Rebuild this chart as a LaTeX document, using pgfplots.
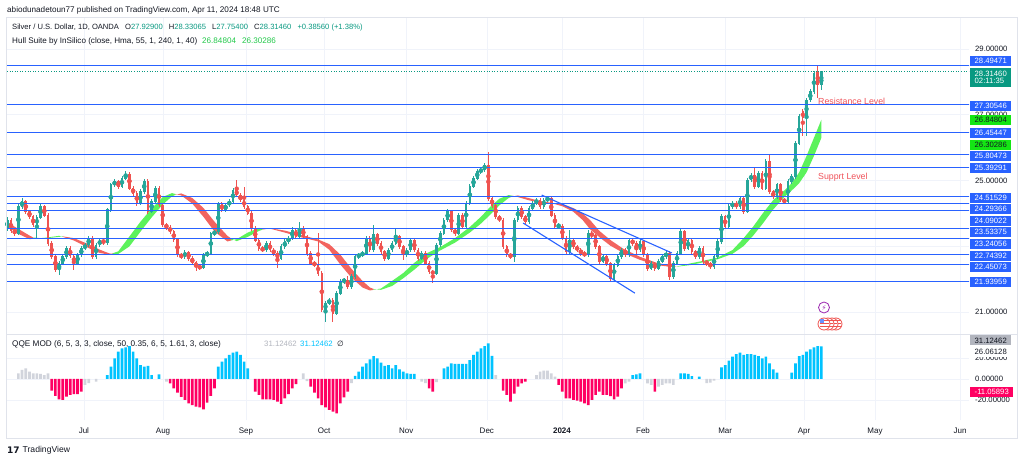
\documentclass[border=0pt]{standalone}
\usepackage{fontspec}
\setmainfont{Liberation Sans}
\newfontfamily\dejavu{DejaVu Sans}
\usepackage{pgfplots}
\pgfplotsset{compat=1.18}
\usepackage{pgfplotstable}

\definecolor{cgreen}{HTML}{26A69A}
\definecolor{cred}{HTML}{EF5350}
\definecolor{hgreen}{HTML}{5CF25C}
\definecolor{hred}{HTML}{F2645F}
\definecolor{lvl}{HTML}{2962FF}
\definecolor{qblue}{HTML}{00C3FF}
\definecolor{qpink}{HTML}{FF0062}
\definecolor{qgray}{HTML}{D1D4DC}
\definecolor{gridc}{HTML}{F0F3FA}
\definecolor{framec}{HTML}{E0E3EB}
\definecolor{txt}{HTML}{131722}
\definecolor{tvgreen}{HTML}{089981}
\definecolor{hlime}{HTML}{22C94A}
\definecolor{boxgreen}{HTML}{14E514}
\definecolor{resred}{HTML}{F0525A}
\definecolor{lgray}{HTML}{B2B5BE}
\definecolor{purp}{HTML}{9C27B0}

\newcommand\fs[1]{\fontsize{#1}{#1}\selectfont}

\pgfplotstableread{
i O H L C
0 23.55 23.88 23.48 23.80
1 23.80 23.86 23.42 23.48
2 23.48 23.55 23.33 23.40
3 23.40 24.30 23.34 24.21
4 24.21 24.46 24.14 24.36
5 24.36 24.42 23.99 24.06
6 24.06 24.12 23.84 23.90
7 23.90 23.96 23.58 23.65
8 23.65 23.95 23.25 23.88
9 23.88 24.28 23.82 24.21
10 24.21 24.27 23.88 23.95
11 23.95 24.01 23.02 23.09
12 23.09 23.15 22.62 22.69
13 22.69 22.75 22.23 22.30
14 22.30 22.56 22.13 22.49
15 22.49 22.76 22.43 22.69
16 22.69 23.01 22.63 22.94
17 22.94 23.00 22.64 22.71
18 22.71 22.77 22.28 22.49
19 22.49 22.81 22.43 22.74
20 22.74 23.01 22.68 22.94
21 22.94 23.11 22.88 23.04
22 23.04 23.32 22.98 23.25
23 23.25 23.31 22.62 22.69
24 22.69 23.11 22.63 23.04
25 23.04 23.26 22.98 23.19
26 23.19 23.25 23.04 23.11
27 23.11 24.18 23.05 24.11
28 24.11 24.94 24.05 24.87
29 24.87 25.04 24.81 24.97
30 24.97 25.03 24.75 24.82
31 24.82 25.14 24.76 25.07
32 25.07 25.30 25.01 25.20
33 25.20 25.26 24.70 24.77
34 24.77 24.83 24.54 24.61
35 24.61 24.67 24.24 24.31
36 24.31 24.73 24.25 24.66
37 24.66 25.06 24.60 24.97
38 24.97 25.05 23.99 24.06
39 24.06 24.43 24.00 24.36
40 24.36 24.84 24.30 24.77
41 24.77 24.83 24.19 24.26
42 24.26 24.32 23.58 23.65
43 23.65 23.71 23.51 23.58
44 23.58 23.64 23.38 23.45
45 23.45 23.51 23.14 23.21
46 23.21 23.27 22.67 22.74
47 22.74 22.80 22.62 22.69
48 22.69 22.88 22.63 22.81
49 22.81 22.87 22.57 22.64
50 22.64 22.70 22.44 22.51
51 22.51 22.57 22.26 22.38
52 22.38 22.44 22.29 22.36
53 22.36 22.81 22.30 22.74
54 22.74 22.86 22.68 22.79
55 22.79 23.45 22.73 23.38
56 23.38 23.51 23.32 23.44
57 23.44 24.36 23.38 24.29
58 24.29 24.35 24.04 24.11
59 24.11 24.33 24.05 24.26
60 24.26 24.43 24.20 24.36
61 24.36 24.78 24.30 24.71
62 24.71 25.02 24.49 24.56
63 24.56 24.62 24.34 24.41
64 24.41 24.82 24.14 24.21
65 24.21 24.27 23.94 24.01
66 24.01 24.07 23.48 23.55
67 23.55 23.61 23.12 23.19
68 23.19 23.25 22.87 22.94
69 22.94 23.00 22.82 22.89
70 22.89 23.16 22.83 23.09
71 23.09 23.15 22.82 22.89
72 22.89 22.95 22.72 22.79
73 22.79 22.85 22.33 22.64
74 22.64 23.06 22.58 22.99
75 22.99 23.21 22.93 23.14
76 23.14 23.32 23.08 23.25
77 23.25 23.58 23.19 23.50
78 23.50 23.56 23.23 23.30
79 23.30 23.75 23.24 23.55
80 23.55 23.61 23.23 23.30
81 23.30 23.36 22.72 22.79
82 22.79 22.85 22.42 22.49
83 22.49 22.55 22.38 22.45
84 22.45 23.40 22.11 22.18
85 22.18 22.24 21.00 21.07
86 21.07 21.34 20.71 21.27
87 21.27 21.44 21.21 21.37
88 21.37 21.43 20.71 20.97
89 20.97 21.64 20.91 21.57
90 21.57 22.00 21.51 21.93
91 21.93 22.05 21.87 21.98
92 21.98 22.10 21.71 21.78
93 21.78 22.15 21.72 22.08
94 22.08 22.76 22.02 22.69
95 22.69 22.81 22.63 22.74
96 22.74 22.86 22.68 22.79
97 22.79 23.32 22.73 23.25
98 23.25 23.31 22.83 22.90
99 22.90 23.65 22.84 23.35
100 23.35 23.41 23.02 23.09
101 23.09 23.15 22.77 22.84
102 22.84 22.90 22.57 22.64
103 22.64 22.96 22.58 22.89
104 22.89 23.16 22.83 23.09
105 23.09 23.55 23.03 23.30
106 23.30 23.36 22.92 22.99
107 22.99 23.05 22.59 22.74
108 22.74 22.96 22.68 22.89
109 22.89 23.26 22.83 23.19
110 23.19 23.25 22.82 22.89
111 22.89 22.95 22.57 22.64
112 22.64 22.86 22.58 22.79
113 22.79 22.85 22.42 22.49
114 22.49 22.55 22.16 22.23
115 22.23 22.29 21.88 22.18
116 22.18 23.11 22.12 23.04
117 23.04 23.47 22.98 23.40
118 23.40 23.87 23.34 23.80
119 23.80 24.13 23.74 24.06
120 24.06 24.12 23.43 23.50
121 23.50 23.56 23.33 23.40
122 23.40 24.02 23.34 23.95
123 23.95 24.01 23.53 23.60
124 23.60 24.38 23.54 24.31
125 24.31 24.89 24.25 24.82
126 24.82 25.14 24.76 25.07
127 25.07 25.34 25.01 25.27
128 25.27 25.40 25.21 25.33
129 25.33 25.54 25.27 25.47
130 25.47 25.88 24.39 24.46
131 24.46 24.52 24.18 24.25
132 24.25 24.31 23.83 23.90
133 23.90 23.96 23.73 23.80
134 23.80 23.86 22.92 22.99
135 22.99 23.05 22.67 22.74
136 22.74 22.80 22.63 22.70
137 22.70 23.87 22.54 23.80
138 23.80 24.23 23.74 24.16
139 24.16 24.22 23.83 23.90
140 23.90 23.96 23.68 23.75
141 23.75 24.23 23.69 24.16
142 24.16 24.38 24.10 24.31
143 24.31 24.48 24.25 24.41
144 24.41 24.47 24.14 24.21
145 24.21 24.48 24.15 24.41
146 24.41 24.52 24.35 24.45
147 24.45 24.51 23.88 23.95
148 23.95 24.01 23.53 23.60
149 23.60 23.72 23.54 23.62
150 23.62 23.68 23.18 23.25
151 23.25 23.31 22.74 22.84
152 22.84 23.50 22.78 23.19
153 23.19 23.25 22.92 22.99
154 22.99 23.05 22.82 22.89
155 22.89 22.95 22.72 22.79
156 22.79 22.85 22.67 22.74
157 22.74 23.50 22.68 23.40
158 23.40 23.46 23.25 23.32
159 23.32 23.38 22.92 22.99
160 22.99 23.05 22.47 22.54
161 22.54 22.76 22.48 22.69
162 22.69 22.75 22.41 22.48
163 22.48 22.54 21.96 22.03
164 22.03 22.50 21.97 22.43
165 22.43 22.76 22.37 22.69
166 22.69 22.96 22.63 22.89
167 22.89 22.95 22.67 22.74
168 22.74 23.26 22.68 23.19
169 23.19 23.25 23.02 23.09
170 23.09 23.15 22.74 22.89
171 22.89 23.21 22.83 23.14
172 23.14 23.20 22.67 22.74
173 22.74 22.80 22.26 22.33
174 22.33 22.55 22.27 22.48
175 22.48 22.54 22.26 22.33
176 22.33 22.61 22.27 22.54
177 22.54 22.76 22.48 22.69
178 22.69 22.86 22.63 22.79
179 22.79 22.85 21.98 22.08
180 22.08 22.55 22.02 22.48
181 22.48 22.86 22.42 22.79
182 22.79 23.52 22.73 23.45
183 23.45 23.51 22.87 22.94
184 22.94 23.26 22.88 23.19
185 23.19 23.25 22.77 22.84
186 22.84 22.90 22.62 22.69
187 22.69 23.01 22.63 22.94
188 22.94 23.00 22.47 22.54
189 22.54 22.60 22.41 22.48
190 22.48 22.54 22.31 22.38
191 22.38 22.76 22.32 22.69
192 22.69 23.21 22.63 23.14
193 23.14 23.97 23.08 23.90
194 23.90 23.96 23.53 23.60
195 23.60 24.28 23.54 24.21
196 24.21 24.38 24.15 24.31
197 24.31 24.37 24.14 24.21
198 24.21 24.53 24.15 24.46
199 24.46 24.52 23.99 24.06
200 24.06 25.09 24.00 25.02
201 25.02 25.24 24.96 25.17
202 25.17 25.42 24.75 24.82
203 24.82 25.29 24.76 25.22
204 25.22 25.28 24.70 24.77
205 24.77 25.65 24.71 25.58
206 25.58 25.78 24.59 24.66
207 24.66 24.72 24.44 24.51
208 24.51 24.94 24.45 24.87
209 24.87 24.93 24.34 24.41
210 24.41 24.47 24.31 24.36
211 24.36 25.04 24.30 24.97
212 24.97 25.19 24.91 25.12
213 25.12 26.20 25.06 26.13
214 26.13 27.02 26.07 26.95
215 27.10 27.17 26.35 26.90
216 26.90 27.52 26.35 27.45
217 27.45 27.77 27.39 27.70
218 27.70 28.32 27.64 28.25
219 28.30 28.49 27.50 27.93
220 27.93 28.33 27.75 28.31
}\candles

\pgfplotstableread{
i v c
3 5.4 0
4 8.6 0
5 10.2 0
6 7.0 0
7 5.4 0
8 5.4 0
9 4.8 0
10 3.8 0
11 5.4 0
12 -11 2
13 -16 2
14 -19.4 2
15 -20 2
16 -16.8 2
17 -15.2 2
18 -14.3 2
19 -14.3 2
20 -12 2
21 -5.7 0
22 -4 0
24 -2.5 0
27 3.8 1
28 11.7 1
29 19.7 1
30 26 1
31 29.2 1
32 30 1
33 31.4 1
34 26 1
35 19.7 1
36 13.3 1
37 11.7 1
38 12.4 1
39 3.8 1
41 4.4 1
43 -2.5 0
44 -4.1 2
45 -8.9 2
46 -13 2
47 -17 2
48 -20 2
49 -23.2 2
50 -24.8 2
51 -26.3 2
52 -27 2
53 -28.9 2
54 -22.5 2
55 -16 2
56 -9 2
57 11.7 1
58 16.5 1
59 19.7 1
60 22.9 1
61 25 1
62 26 1
63 22.9 1
64 16.5 1
65 10.2 1
67 -12 2
68 -15.2 2
69 -19.4 2
70 -19.4 2
71 -19.4 2
72 -20 2
73 -21.6 2
74 -23.8 2
75 -18.4 2
76 -14.3 2
77 -8.9 2
78 -4.8 2
80 5.4 0
81 -2 0
82 -7.3 2
83 -13 2
84 -18.4 2
85 -24.8 2
86 -27 2
87 -29.5 2
88 -31.1 2
89 -32.7 2
90 -23.2 2
91 -17.5 2
92 -12 2
93 -4 0
94 2.9 1
95 7 1
96 11.7 1
97 14.9 1
98 18.7 1
99 21.9 1
100 19.7 1
101 15.6 1
102 12.4 1
103 13.3 1
104 10.2 1
105 13.3 1
106 9.2 1
107 7 1
108 5.4 1
109 4.8 1
110 4.8 1
112 -2.5 0
113 -4 0
114 -8.9 2
115 -12 2
116 -3 0
118 10.2 1
119 11.7 1
120 14.9 1
121 14.3 1
122 14.3 1
123 14.3 1
124 14.3 1
125 18 1
126 22.9 1
127 26 1
128 29.2 1
129 31.4 1
130 34 1
131 22 1
132 3.8 0
134 -11 2
135 -15.2 2
136 -21.6 2
137 -14 2
138 -7.3 2
139 -4.1 2
140 -2.5 2
143 3.8 0
144 7 0
145 7.9 0
146 7.9 0
147 5.4 0
148 2.2 0
149 -5.7 2
150 -12 2
151 -18.4 2
152 -18.4 2
153 -20 2
154 -20.6 2
155 -21.6 2
156 -23.2 2
157 -24.8 2
158 -20 2
159 -15.2 2
160 -12 2
161 -15.2 2
162 -15.2 2
163 -16.2 2
164 -19.4 2
165 -16.8 2
166 -8.9 2
167 -4.1 0
168 -2.5 0
169 3.8 1
170 4.4 1
171 5.4 1
173 -4.1 0
174 -5.7 0
175 -12 2
176 -7.3 0
177 -5.7 0
178 -4.1 0
179 -4.1 0
180 -5.7 0
182 5.4 1
183 5.4 1
184 4.8 1
185 2.8 1
187 2.2 1
189 -4 0
190 -3.5 0
191 -1.6 0
193 11.1 1
194 13.3 1
195 17.5 1
196 21.3 1
197 23.8 1
198 25 1
199 22.9 1
200 23.8 1
201 23.8 1
202 22.9 1
203 21.9 1
204 19.7 1
205 21.3 1
206 14.9 1
207 9.2 1
208 6 1
212 6 1
213 14.9 1
214 21.9 1
215 22.9 1
216 26 1
217 28.3 1
218 30.2 1
219 31.4 1
220 31.12 1
}\qqe

\pgfplotsset{
  tvaxis/.style={
    scale only axis, width=962.3bp,
    xmin=-0.16, xmax=259.9,
    axis line style={draw=none}, major tick length=0pt,
    grid=major, grid style={gridc, line width=0.7bp},
    xtick={20.7,42.1,64.5,85.6,107.8,129.6,149.9,171.8,194.0,215.3,234.5,257.5},
    yticklabel pos=right,
    yticklabel style={anchor=west, inner sep=0pt, xshift=6bp, font=\fs{7.7bp}, text=txt},
  },
  cwick/.style={color=#1, only marks, mark=none, forget plot,
    error bars/y dir=both, error bars/y explicit, error bars/error mark=none,
    error bars/error bar style={line width=0.9bp, draw=#1}},
  cbody/.style={color=#1, only marks, mark=none, forget plot,
    error bars/y dir=both, error bars/y explicit, error bars/error mark=none,
    error bars/error bar style={line width=2.6bp, draw=#1}},
  level/.style={lvl, line width=1.1bp, forget plot},
  band/.style={fill=#1, draw=none, forget plot},
}

\begin{document}
\begin{tikzpicture}
\path[use as bounding box, fill=white] (0,0) rectangle (1024bp,463bp);

% ===== price panel =====
\begin{axis}[tvaxis, at={(6.7bp,129bp)}, anchor=south west, height=317bp,
  ymin=20.337, ymax=29.973,
  ytick={21,23,25,27,29},
  yticklabels={21.00000,,25.00000,27.00000,29.00000},
  xticklabels={}]
  % Hull Suite band: HMA (forward edge) and HMA two bars earlier (return edge)
  \addplot[band=hred] coordinates {(-4,23.85)(0,23.60)(3,23.38)(6,23.22)(7,23.23)
    (7,23.27)(6,23.33)(3,23.53)(0,23.73)(-4,23.97)};
  \addplot[band=hgreen] coordinates {(7,23.23)(10,23.26)(14,23.32)(15,23.29)
    (15,23.305)(14,23.29)(10,23.24)(7,23.27)};
  \addplot[band=hred] coordinates {(15,23.29)(18,23.18)(22,22.95)(25,22.80)(27.5,22.75)(28.5,22.79)
    (28.5,22.77)(27.5,22.79)(25,22.90)(22,23.065)(18,23.25)(15,23.305)};
  \addplot[band=hgreen] coordinates {(28.5,22.79)(30,22.85)(33,23.30)(36,23.75)(39,24.15)(42,24.50)(44.5,24.62)(45.5,24.59)
    (45.5,24.57)(44.5,24.52)(42,24.27)(39,23.88)(36,23.45)(33,23.00)(30,22.77)(28.5,22.77)};
  \addplot[band=hred] coordinates {(45.5,24.59)(47,24.55)(50,24.30)(53,23.90)(56,23.45)(59.5,23.15)(60.5,23.18)
    (60.5,23.24)(59.5,23.32)(56,23.75)(53,24.17)(50,24.47)(47,24.61)(45.5,24.57)};
  \addplot[band=hgreen] coordinates {(60.5,23.18)(62,23.22)(65,23.42)(68,23.56)(69,23.55)
    (69,23.51)(68,23.47)(65,23.29)(62,23.16)(60.5,23.24)};
  \addplot[band=hred] coordinates {(69,23.55)(71,23.54)(75,23.42)(79,23.29)(84,23.15)(87,22.90)(90,22.45)(93,22.05)(96,21.75)(98,21.66)(99,21.68)
    (99,21.705)(98,21.75)(96,21.95)(93,22.32)(90,22.75)(87,23.07)(84,23.21)(79,23.36)(75,23.48)(71,23.55)(69,23.51)};
  \addplot[band=hgreen] coordinates {(99,21.68)(101,21.72)(104,21.95)(107,22.19)(110,22.50)(113.5,22.80)(117,22.98)(121,23.25)(125,23.59)(128,23.90)(130.5,24.20)(133,24.45)(135.5,24.56)(136.5,24.54)
    (136.5,24.516)(135.5,24.472)(133,24.25)(130.5,23.96)(128,23.693)(125,23.42)(121,23.115)(117,22.877)(113.5,22.629)(110,22.293)(107,22.03)(104,21.797)(101,21.68)(99,21.705)};
  \addplot[band=hred] coordinates {(136.5,24.54)(138,24.50)(141,24.40)(144,24.33)(147.5,24.30)(150,24.22)(153,24.05)(155.5,23.80)(157.5,23.52)(160,23.28)(163,23.02)(166.5,22.80)(171,22.59)(175.5,22.43)(180,22.37)(181,22.39)
    (181,22.383)(180,22.397)(175.5,22.501)(171,22.683)(166.5,22.926)(163,23.193)(160,23.472)(157.5,23.80)(155.5,24.00)(153,24.163)(150,24.284)(147.5,24.317)(144,24.377)(141,24.467)(138,24.548)(136.5,24.516)};
  \addplot[band=hgreen] coordinates {(181,22.39)(184.5,22.48)(188,22.56)(192,22.66)(196,22.89)(199,23.25)(201.5,23.59)(204,23.98)(207,24.41)(210,24.70)(212,24.92)(214,25.25)(216,25.75)(218,26.30)(220,26.85)
    (220,26.30)(218,25.75)(216,25.25)(214,24.92)(212,24.70)(210,24.507)(207,24.123)(204,23.668)(201.5,23.318)(199,23.01)(196,22.775)(192,22.61)(188,22.514)(184.5,22.431)(181,22.383)};

  % candles: wicks
  \addplot[cwick=cgreen, restrict expr to domain={\thisrow{C}-\thisrow{O}}{0:100}]
    table[x=i, y expr={(\thisrow{H}+\thisrow{L})/2}, y error expr={(\thisrow{H}-\thisrow{L})/2}] {\candles};
  \addplot[cwick=cred, restrict expr to domain={\thisrow{C}-\thisrow{O}}{-100:-0.0001}]
    table[x=i, y expr={(\thisrow{H}+\thisrow{L})/2}, y error expr={(\thisrow{H}-\thisrow{L})/2}] {\candles};
  % candles: bodies
  \addplot[cbody=cgreen, restrict expr to domain={\thisrow{C}-\thisrow{O}}{0:100}]
    table[x=i, y expr={(\thisrow{O}+\thisrow{C})/2}, y error expr={abs(\thisrow{C}-\thisrow{O})/2+0.012}] {\candles};
  \addplot[cbody=cred, restrict expr to domain={\thisrow{C}-\thisrow{O}}{-100:-0.0001}]
    table[x=i, y expr={(\thisrow{O}+\thisrow{C})/2}, y error expr={abs(\thisrow{C}-\thisrow{O})/2+0.012}] {\candles};

  % current price line
  \addplot[tvgreen, dotted, line width=0.6bp, forget plot] coordinates {(-5,28.3146) (265,28.3146)};

  % horizontal levels
  \addplot[level] coordinates {(-5,28.49471) (265,28.49471)};
  \addplot[level] coordinates {(-5,27.30546) (265,27.30546)};
  \addplot[level] coordinates {(-5,26.45447) (265,26.45447)};
  \addplot[level] coordinates {(-5,25.80473) (265,25.80473)};
  \addplot[level] coordinates {(-5,25.39291) (265,25.39291)};
  \addplot[level] coordinates {(-5,24.51529) (265,24.51529)};
  \addplot[level] coordinates {(-5,24.29366) (265,24.29366)};
  \addplot[level] coordinates {(-5,24.09022) (265,24.09022)};
  \addplot[level] coordinates {(-5,23.53375) (265,23.53375)};
  \addplot[level] coordinates {(-5,23.24056) (265,23.24056)};
  \addplot[level] coordinates {(-5,22.74392) (265,22.74392)};
  \addplot[level] coordinates {(-5,22.45073) (265,22.45073)};
  \addplot[level] coordinates {(-5,21.93959) (265,21.93959)};
  % channel
  \addplot[level] coordinates {(144.4,24.56) (179.6,22.80)};
  \addplot[level] coordinates {(139.4,23.71) (169.6,21.58)};
\end{axis}

% ===== QQE panel =====
\begin{axis}[tvaxis, at={(6.7bp,43bp)}, anchor=south west, height=86bp,
  ymin=-39.05, ymax=42.86,
  ytick={-20,0,20}, yticklabels={-20.00000,0.00000,20.00000},
  xticklabels={Jul,Aug,Sep,Oct,Nov,Dec,\textbf{2024},Feb,Mar,Apr,May,Jun},
  xticklabel style={anchor=base, inner sep=0pt, yshift=-13bp, font=\fs{8bp}, text=txt}]
  \addplot[ybar, bar width=2.7bp, bar shift=0pt, fill=qgray, draw=none,
    restrict expr to domain={\thisrow{c}}{-0.5:0.5}] table[x=i, y=v] {\qqe};
  \addplot[ybar, bar width=2.7bp, bar shift=0pt, fill=qblue, draw=none,
    restrict expr to domain={\thisrow{c}}{0.5:1.5}] table[x=i, y=v] {\qqe};
  \addplot[ybar, bar width=2.7bp, bar shift=0pt, fill=qpink, draw=none,
    restrict expr to domain={\thisrow{c}}{1.5:2.5}] table[x=i, y=v] {\qqe};
\end{axis}

\begin{scope}[x=1bp, y=1bp]
% frame
\draw[framec, line width=0.8bp] (6.7,446) rectangle (1017,25);
\draw[framec, line width=0.8bp] (6.7,129) -- (1017,129);

% header texts
\node[anchor=west, inner sep=0pt, font=\fs{8.15bp}, text=txt] at (7,453) {abiodunadetoun77 published on TradingView.com, Apr 11, 2024 18:48 UTC};
\node[anchor=west, inner sep=0pt, font=\fs{7.6bp}, text=txt] at (12,435.7)
 {Silver / U.S. Dollar, 1D, OANDA\hspace{4bp} O\textcolor{tvgreen}{27.92900}\hspace{4bp} H\textcolor{tvgreen}{28.33065}\hspace{4bp} L\textcolor{tvgreen}{27.75400}\hspace{4bp} C\textcolor{tvgreen}{28.31460}\hspace{4bp} \textcolor{tvgreen}{+0.38560 (+1.38\%)}};
\node[anchor=west, inner sep=0pt, font=\fs{8.1bp}, text=txt] at (12,422)
 {Hull Suite by InSilico (close, Hma, 55, 1, 240, 1, 40)\hspace{5bp}\textcolor{hlime}{26.84804}\hspace{6bp}\textcolor{hlime}{26.30286}};
\node[anchor=west, inner sep=0pt, font=\fs{8.2bp}, text=txt] at (12,119)
 {QQE MOD (6, 5, 3, 3, close, 50, 0.35, 6, 5, 1.61, 3, close)};
\node[anchor=west, inner sep=0pt, font=\fs{7.8bp}, text=lgray] at (264,119) {31.12462};
\node[anchor=west, inner sep=0pt, font=\fs{7.8bp}, text=qblue] at (300,119) {31.12462};
\node[anchor=west, inner sep=0pt, font=\dejavu\fs{7.6bp}, text=txt] at (337,119) {∅};

% annotations
\node[anchor=west, inner sep=0pt, font=\fs{8.8bp}, text=resred] at (818,362) {Resistance Level};
\node[anchor=west, inner sep=0pt, font=\fs{8.8bp}, text=resred] at (818,286) {Supprt Level};

% event icons
\filldraw[fill=white, draw=purp, line width=0.8bp] (824,155.5) circle (5.5);
\node[inner sep=0pt, font=\dejavu\fs{7bp}, text=purp] at (824,155.5) {⚡};
\foreach \xx in {836,832,828,824} {\filldraw[fill=white, draw=cred, line width=0.8bp] (\xx,139) circle (6);
  \foreach \yy in {-3,0,3} {\draw[cred, line width=1bp] (\xx-4.5,139+\yy) -- (\xx+4.5,139+\yy);}}
\fill[lvl!70] (819.5,140) rectangle (824,143.5);

% right scale labels
\tikzset{bl/.style={anchor=west, inner xsep=4.5bp, inner ysep=0pt, minimum height=10bp, fill=lvl, text=white, font=\fs{7.7bp}}}
\node[bl] at (970,402) {28.49471};
\node[bl, fill=tvgreen, align=left, minimum height=19bp] at (970,385.5) {28.31460\\[-0.6bp]02:11:35};
\node[bl] at (970,357.3) {27.30546};
\node[bl, fill=boxgreen, text=txt] at (970,343) {26.84804};
\node[bl] at (970,330.3) {26.45447};
\node[bl, fill=boxgreen, text=txt] at (970,318) {26.30286};
\node[bl] at (970,307) {25.80473};
\node[bl] at (970,295) {25.39291};
\node[bl] at (970,265.3) {24.51529};
\node[bl] at (970,253.7) {24.29366};
\node[bl] at (970,242) {24.09022};
\node[bl] at (970,230.7) {23.53375};
\node[bl] at (970,219) {23.24056};
\node[bl] at (970,207) {22.74392};
\node[bl] at (970,195.7) {22.45073};
\node[bl] at (970,181) {21.93959};
\node[bl, fill=lgray, text=txt] at (970,122.5) {31.12462};
\node[bl, fill=white, text=txt] at (970,111) {26.06128};
\node[bl, fill=qpink] at (970,71.3) {-11.05893};

% TradingView logo
\node[anchor=west, inner sep=0pt, font=\dejavu\bfseries\fs{9bp}, text=txt] at (7,12.5) {17};
\node[anchor=west, inner sep=0pt, font=\fs{8.6bp}, text=txt] at (22.5,12.5) {TradingView};
\end{scope}
\end{tikzpicture}
\end{document}
